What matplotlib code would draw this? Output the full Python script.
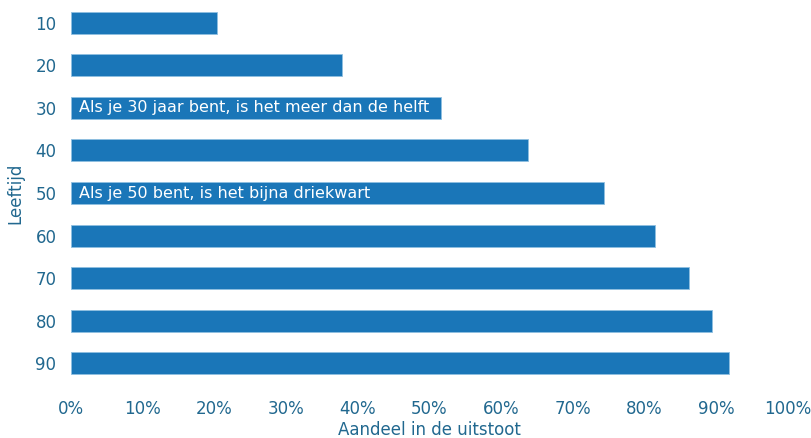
import matplotlib.pyplot as plt
import numpy as np

ages = ['10', '20', '30', '40', '50', '60', '70', '80', '90']
share = [20.4, 37.8, 51.6, 63.8, 74.4, 81.5, 86.3, 89.4, 91.8]
notes = {'30': 'Als je 30 jaar bent, is het meer dan de helft',
         '50': 'Als je 50 bent, is het bijna driekwart'}
xticks = [0, 10, 20, 30, 40, 50, 60, 70, 80, 90, 100]

bar_color = '#1a76b8'
text_color = '#21688f'

plt.rcParams['font.family'] = ['DejaVu Sans']

fig = plt.figure(figsize=(8.12, 4.38), dpi=100)
ax = fig.add_axes([0.0874, 0.1217, 0.8826, 0.8753])

y = np.arange(len(ages))
ax.barh(y, share, height=0.52, color=bar_color, edgecolor='#8fbfe0', linewidth=0.6)

for i, age in enumerate(ages):
    if age in notes:
        ax.text(1.1, i, notes[age], color='white', fontsize=11.5, va='center', ha='left')

ax.set_xlim(0, 100)
ax.set_ylim(8.5, -0.5)
ax.set_yticks(y)
ax.set_yticklabels(ages)
ax.set_xticks(xticks)
ax.set_xticklabels([f'{v}%' for v in xticks])
ax.tick_params(axis='both', length=0, labelcolor=text_color, labelsize=12)
ax.tick_params(axis='x', pad=11)
ax.tick_params(axis='y', pad=10.5)
for s in ax.spines.values():
    s.set_visible(False)

ax.set_xlabel('Aandeel in de uitstoot', color=text_color, fontsize=12, labelpad=2)
ax.set_ylabel('Leeftijd', color=text_color, fontsize=12, labelpad=8)

fig.savefig('out.png', dpi=100)
